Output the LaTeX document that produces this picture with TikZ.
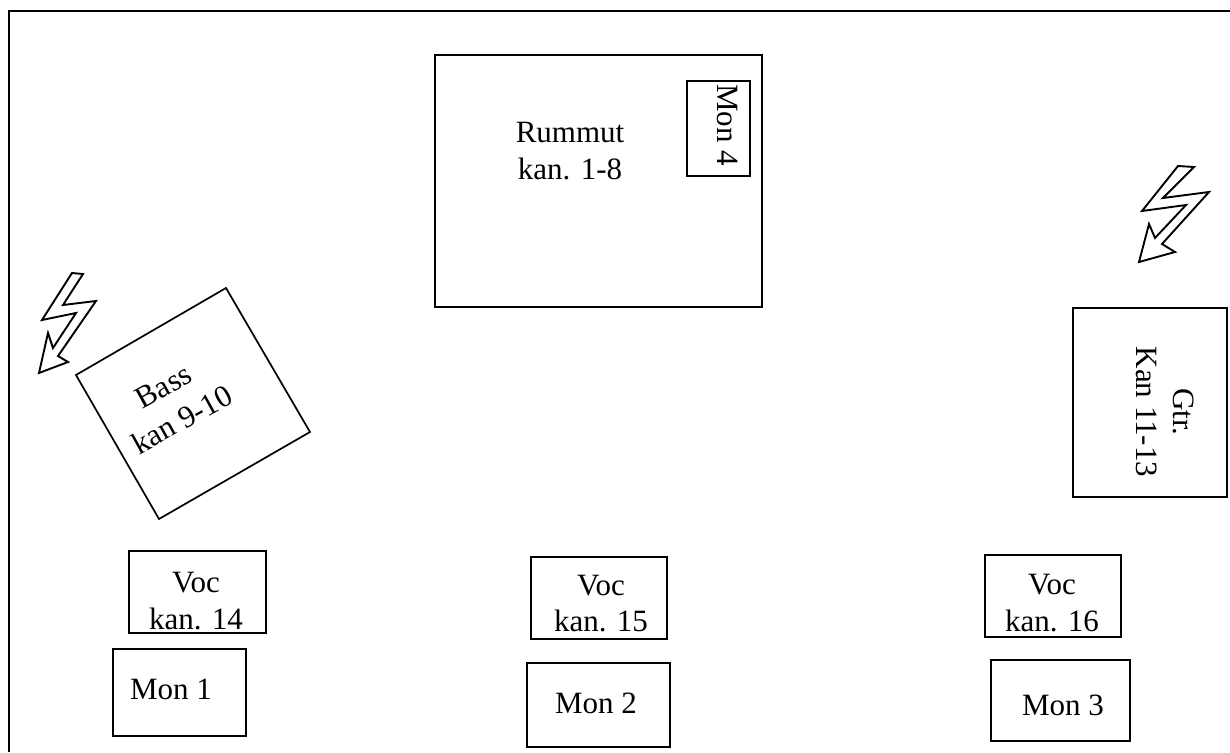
\documentclass[tikz,border=0pt]{standalone}
\usepackage{fontspec}
\setmainfont{Liberation Serif}
\tikzset{
  x=1pt,y=-1pt,
  box/.style={draw=black,line width=1.7pt,line join=miter},
  bolt/.style={draw=black,line width=1.9pt,line join=miter,fill=white},
  lbl/.style={font=\fontsize{31}{36.5}\selectfont,text=black,inner sep=0pt,align=center,anchor=center}
}
\begin{document}
\begin{tikzpicture}
\useasboundingbox (0,0) rectangle (1230,752);
\draw[box,line width=2.2pt] (9,752) |- (1230,11);
% Boxes
\draw[box] (435,55) rectangle (762,307);
\draw[box] (687,81) rectangle (750,176);
\draw[box] (1073,308) rectangle (1227,497);
\draw[box] (226,288) -- (310,432) -- (159,519) -- (76,375) -- cycle;
\draw[box] (129,551) rectangle (266,633);
\draw[box] (113,649) rectangle (246,736);
\draw[box] (531,557) rectangle (667,639);
\draw[box] (527,663) rectangle (670,747);
\draw[box] (985,555) rectangle (1121,637);
\draw[box] (991,660) rectangle (1130,741);
% Labels
\node[lbl] (rummut) at (570,151) {Rummut\\kan. 1-8};
\node[lbl,rotate=-90] (mon4) at (728,125) {Mon 4};
\node[lbl,rotate=-90] (gtr) at (1165,412) {Gtr.\\Kan 11-13};
\node[lbl,rotate=29] (bass) at (173,403) {Bass\\[2pt]kan 9-10};
\node[lbl] (voc14) at (196,601) {Voc\\kan. 14};
\node[lbl] (mon1) at (171,689) {Mon 1};
\node[lbl] (voc15) at (601,603.5) {Voc\\kan. 15};
\node[lbl] (mon2) at (596,703) {Mon 2};
\node[lbl] (voc16) at (1052,603) {Voc\\kan. 16};
\node[lbl] (mon3) at (1063,705) {Mon 3};
% Bolts
\draw[bolt] (72,273) -- (83,274) -- (63,305) -- (96,301) -- (58,356) -- (68,362) -- (39,373) -- (48,333) -- (53,348) -- (76,313) -- (42,320) -- cycle;
\draw[bolt] (1178,166) -- (1194,167) -- (1163,198) -- (1209,192) -- (1162,244) -- (1175,252) -- (1139,262) -- (1149,224) -- (1155,238) -- (1186,205) -- (1142,211) -- cycle;
\end{tikzpicture}
\end{document}
